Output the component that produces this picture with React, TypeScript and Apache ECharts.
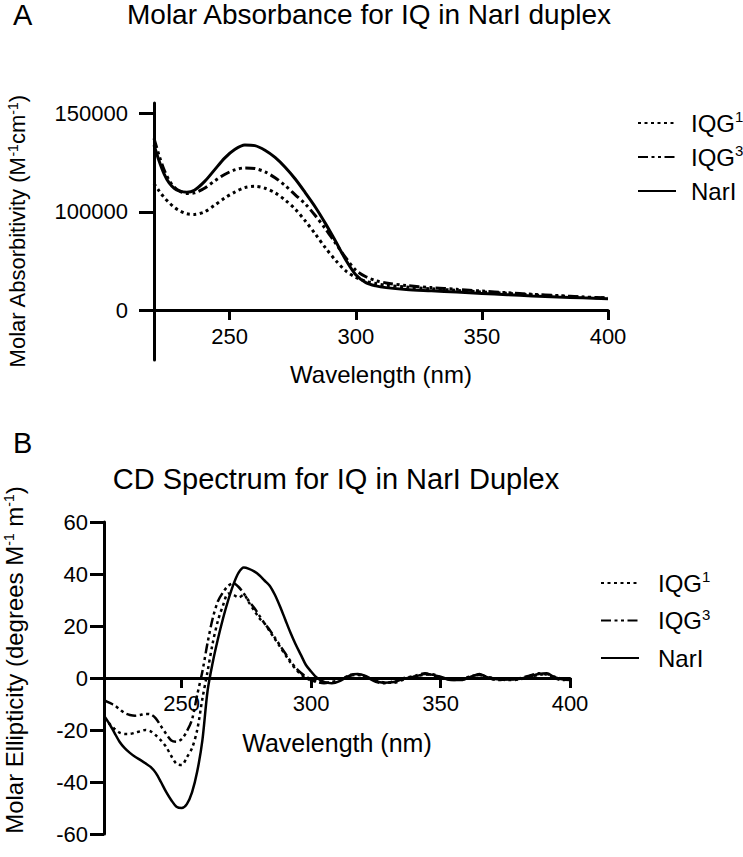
import React, { useEffect, useRef } from 'react';
import * as echarts from 'echarts';

const FONT = '"Liberation Sans", Arial, Helvetica, sans-serif';

// ---------- Panel A: molar absorptivity ----------
const absWavelength = [220, 222, 224, 226, 228, 230, 233, 236, 240, 244, 248, 252, 256, 260, 264, 268, 272, 276, 280, 284, 288, 292, 296, 300, 304, 308, 312, 320, 330, 340, 350, 360, 370, 380, 390, 400];
const absIQG1 = [96500, 91000, 86000, 82000, 78500, 76000, 73500, 73000, 75000, 80000, 85500, 90000, 93500, 94500, 93000, 89500, 84000, 77000, 68000, 58000, 47500, 38000, 30000, 25000, 22000, 20300, 19000, 17600, 16300, 15100, 13900, 12800, 11700, 10800, 9900, 9200];
const absIQG3 = [131000, 118000, 107000, 99000, 94000, 91000, 89000, 89500, 93000, 98500, 103500, 107000, 108500, 108000, 105500, 101000, 95000, 88000, 81000, 72000, 62000, 51000, 40000, 30500, 25500, 22500, 20800, 18800, 17200, 15900, 14600, 13300, 12100, 11100, 10100, 9300];
const absNarI = [126000, 114000, 104000, 97000, 93000, 91000, 90000, 91500, 98000, 107000, 116000, 122500, 126000, 125500, 122000, 116500, 109000, 100000, 89500, 78500, 66000, 52500, 38500, 27000, 21000, 18500, 17200, 15800, 14800, 13800, 12800, 11800, 10900, 10100, 9400, 8800];
const absTickValues = [0, 75000, 150000];
const absTickLabels = ['0', '100000', '150000'];

// ---------- Panel B: CD spectrum ----------
const cdWavelength = [220, 222, 224, 226, 228, 230, 232, 234, 236, 238, 240, 242, 244, 246, 248, 250, 252, 254, 256, 258, 260, 262, 264, 266, 268, 270, 272, 274, 276, 278, 280, 282, 284, 286, 288, 290, 292, 294, 296, 298, 300, 302, 305, 308, 311, 315, 318, 321, 325, 328, 332, 336, 340, 344, 347, 350, 354, 358, 362, 365, 368, 372, 376, 380, 384, 388, 391, 394, 397, 400];
const cdIQG1 = [-15.5, -17.5, -19.5, -21, -21.5, -21.5, -21, -20.5, -20, -20.5, -22, -24, -26.5, -30, -33, -33.5, -30.5, -27, -20, -8, 2.5, 13.5, 22, 28, 32.5, 32, 31, 32, 29, 26, 23, 21, 18, 15, 12, 9, 6, 3.5, 1.5, 0, -1, -1.2, -1.8, -1.8, -1, 1.2, 1.4, 0.6, -1, -1.6, -1.8, -0.5, 0.6, 1.3, 1.4, 0.3, -0.6, -0.6, 0.4, 1.3, 0.5, -0.3, -0.8, -0.6, 0.3, 1.2, 1.5, 0.5, -0.3, -0.6];
const cdIQG3 = [-8.5, -9.5, -10.5, -12, -13.5, -14.2, -14.5, -14.2, -13.8, -14, -15.5, -18.5, -21.5, -24, -24.5, -23.5, -20.5, -16, -6.5, 2.5, 13.5, 23, 29.5, 33, 35.5, 36.5, 35, 32.5, 29.5, 27, 24, 21, 18.5, 15.5, 12.5, 9.5, 6.5, 4, 2, 0.5, -0.5, -1.5, -2, -1.5, -0.8, 0.8, 1.2, 0.5, -1.5, -2, -1.2, 0, 0.8, 1.8, 1, 0.2, -0.8, -0.5, 0.8, 1.2, 0, -0.8, -0.4, -0.2, 0.8, 1.8, 1.2, 0, -0.8, -0.5];
const cdNarI = [-14.5, -17.5, -21, -24.5, -27, -28.8, -30.3, -31.5, -32.8, -34.2, -36.5, -40, -43.8, -47, -49.5, -50, -48.5, -44, -36, -24, -5, 6, 15, 23, 30, 36, 40.5, 42.5, 42, 41, 39.5, 37.5, 35.5, 32, 27.5, 22.5, 17.5, 13, 9, 5, 2.5, 0.3, -1.5, -2, -1.2, 1, 1.5, 0.8, -1.2, -1.8, -1.5, -0.3, 0.5, 1.5, 1.2, 0.5, -0.7, -0.8, 0.6, 1.5, 0.3, -0.5, -0.6, -0.4, 0.5, 1.5, 1.8, 0.3, -0.5, -0.8];

const wavelengthTicks = [250, 300, 350, 400];
const seriesNames = ['IQG1', 'IQG3', 'NarI'];

const dashFor: Record<string, any> = {
  IQG1: [3, 3.5],
  IQG3: [10, 3.5, 3, 3.5, 3, 3.5],
  NarI: 'solid',
};

const zip = (xs: number[], ys: number[]) => xs.map((x, i) => [x, ys[i]]);

const supRich = (size: number) => ({
  sup: { fontSize: size, verticalAlign: 'top', fontFamily: FONT, color: '#000', lineHeight: size },
});

const legendFormatter = (name: string) =>
  name.startsWith('IQG') ? `IQG{sup|${name.slice(3)}}` : name;

// layout (pixels)
const gridA = { left: 154, top: 103, width: 454, height: 257 };
const gridB = { left: 104, top: 522, width: 466, height: 312 };
const zeroA = 310; // y pixel of the x axis in panel A
const zeroB = 678; // y pixel of the x axis in panel B

export default function App() {
  const ref = useRef<HTMLDivElement>(null);

  useEffect(() => {
    if (!ref.current) return;
    const chart = echarts.init(ref.current, undefined, { renderer: 'svg' });

    const axisLine = { show: true, onZero: false, lineStyle: { color: '#000', width: 3 } };
    const tickStyle = { color: '#000', width: 3 };

    const mkSeries = (name: string, grid: number, data: number[][], width: number) => ({
      type: 'line',
      name,
      xAxisIndex: grid,
      yAxisIndex: grid,
      data,
      symbol: 'none',
      showSymbol: false,
      smooth: 0.3,
      lineStyle: { color: '#000', width, type: dashFor[name] },
      itemStyle: { color: '#000' },
    });

    const legendBase = {
      data: seriesNames,
      orient: 'vertical',
      itemWidth: 38,
      itemHeight: 14,
      selectedMode: false,
      padding: 0,
      formatter: legendFormatter,
      itemStyle: { opacity: 0, color: 'rgba(0,0,0,0)', borderWidth: 0 },
    };

    const titleStyle = (size: number) => ({ fontSize: size, lineHeight: size, fontWeight: 'normal', color: '#000', fontFamily: FONT });

    const option: any = {
      animation: false,
      backgroundColor: '#fff',
      title: [
        { text: 'A', left: 13, top: 0, padding: 0, textStyle: titleStyle(29) },
        { text: 'Molar Absorbance for IQ in NarI duplex', left: 369, textAlign: 'center', top: 0, padding: 0, textStyle: titleStyle(28) },
        { text: 'B', left: 13, top: 428, padding: 0, textStyle: titleStyle(29) },
        { text: 'CD Spectrum for IQ in NarI Duplex', left: 336, textAlign: 'center', top: 464, padding: 0, textStyle: titleStyle(29) },
      ],
      legend: [
        {
          ...legendBase,
          left: 637,
          top: 109,
          itemGap: 6,
          textStyle: { fontSize: 24, lineHeight: 28, color: '#000', fontFamily: FONT, padding: [0, 0, 0, 10], rich: supRich(15) },
        },
        {
          ...legendBase,
          left: 600,
          top: 569,
          itemGap: 9.5,
          textStyle: { fontSize: 24, lineHeight: 28, color: '#000', fontFamily: FONT, padding: [0, 0, 0, 14], rich: supRich(15) },
        },
      ],
      grid: [
        { ...gridA, containLabel: false, outerBoundsMode: 'none' },
        { ...gridB, containLabel: false, outerBoundsMode: 'none' },
      ],
      xAxis: [
        {
          gridIndex: 0,
          type: 'value',
          position: 'bottom',
          offset: zeroA - (gridA.top + gridA.height),
          min: 220,
          max: 400,
          axisLine,
          axisTick: { show: true, length: 10, lineStyle: tickStyle, customValues: wavelengthTicks },
          axisLabel: { customValues: wavelengthTicks, fontSize: 22, color: '#000', fontFamily: FONT, margin: 15 },
          splitLine: { show: false },
          name: 'Wavelength (nm)',
          nameLocation: 'middle',
          nameGap: 52,
          nameTextStyle: { fontSize: 24, color: '#000', fontFamily: FONT },
        },
        {
          gridIndex: 1,
          type: 'value',
          position: 'bottom',
          offset: zeroB - (gridB.top + gridB.height),
          min: 220,
          max: 400,
          axisLine,
          axisTick: { show: true, length: 10, lineStyle: tickStyle, customValues: wavelengthTicks },
          axisLabel: { customValues: wavelengthTicks, fontSize: 22, color: '#000', fontFamily: FONT, margin: 14 },
          splitLine: { show: false },
          name: 'Wavelength (nm)',
          nameLocation: 'middle',
          nameGap: 52,
          nameTextStyle: { fontSize: 25, color: '#000', fontFamily: FONT },
        },
      ],
      yAxis: [
        {
          gridIndex: 0,
          type: 'value',
          min: -38000,
          max: 158000,
          axisLine,
          axisTick: { show: true, length: 15, lineStyle: tickStyle, customValues: absTickValues },
          axisLabel: {
            customValues: absTickValues,
            formatter: (v: number) => {
              const i = absTickValues.indexOf(v);
              return i >= 0 ? absTickLabels[i] : '';
            },
            fontSize: 22,
            color: '#000',
            fontFamily: FONT,
            margin: 26,
          },
          splitLine: { show: false },
          name: 'Molar Absorbitivity (M{sup|-1}cm{sup|-1})',
          nameLocation: 'middle',
          nameRotate: 90,
          nameGap: 126,
          nameTextStyle: { fontSize: 22, color: '#000', fontFamily: FONT, rich: supRich(14) },
        },
        {
          gridIndex: 1,
          type: 'value',
          min: -60,
          max: 60,
          interval: 20,
          axisLine,
          axisTick: { show: true, length: 14, lineStyle: tickStyle },
          axisLabel: { fontSize: 22, color: '#000', fontFamily: FONT, margin: 16 },
          splitLine: { show: false },
          name: 'Molar Ellipticity (degrees M{sup|-1} m{sup|-1})',
          nameLocation: 'middle',
          nameRotate: 90,
          nameGap: 78,
          nameTextStyle: { fontSize: 24, color: '#000', fontFamily: FONT, padding: [0, 0, 0, 36], rich: supRich(14) },
        },
      ],
      series: [
        mkSeries('IQG1', 0, zip(absWavelength, absIQG1), 3),
        mkSeries('IQG3', 0, zip(absWavelength, absIQG3), 3),
        mkSeries('NarI', 0, zip(absWavelength, absNarI), 3),
        mkSeries('IQG1', 1, zip(cdWavelength, cdIQG1), 2.5),
        mkSeries('IQG3', 1, zip(cdWavelength, cdIQG3), 2.5),
        mkSeries('NarI', 1, zip(cdWavelength, cdNarI), 2.5),
      ],
    };

    chart.setOption(option);
    return () => chart.dispose();
  }, []);

  return (
    <div
      ref={ref}
      style={{ position: 'absolute', left: 0, top: 0, width: 743, height: 857, background: '#fff' }}
    />
  );
}
